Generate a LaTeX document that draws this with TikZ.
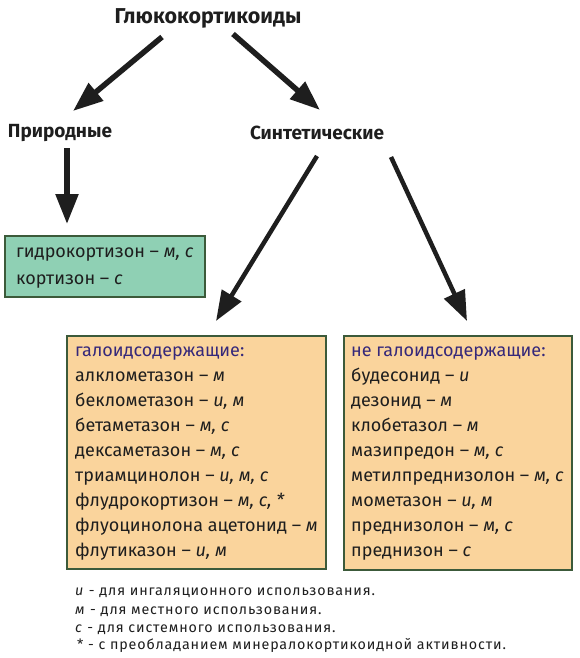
\documentclass[tikz,border=0pt]{standalone}
\usepackage{fontspec}
\setmainfont{Fira Sans}
\usetikzlibrary{arrows.meta}
\definecolor{boxgreen}{HTML}{8FD0B4}
\definecolor{boxorange}{HTML}{FAD49C}
\definecolor{edgecol}{HTML}{3C5A3A}
\definecolor{hdr}{HTML}{35287A}
\definecolor{ink}{HTML}{1E1E1E}
\begin{document}
\begin{tikzpicture}[x=1pt,y=-1pt,
  heading/.style={font=\fontsize{19}{22}\selectfont\bfseries, text=ink, inner sep=0pt},
  bigarrow/.style={line width=5.5pt, draw=ink, -{Triangle[length=30pt,width=22pt]}},
  greenbox/.style={draw=edgecol, line width=1.5pt, fill=boxgreen},
  orangebox/.style={draw=edgecol, line width=1.5pt, fill=boxorange},
  boxtext/.style={font=\fontsize{18}{22}\selectfont, text=ink, anchor=base west, inner sep=0pt},
  hdrtext/.style={boxtext, text=hdr},
  legend/.style={font=\fontsize{14.3}{16}\selectfont\addfontfeature{LetterSpace=6}, text=ink, anchor=base west, inner sep=0pt}]
\useasboundingbox (0,0) rectangle (579,658);

% headings
\node[heading, font=\fontsize{21.5}{24}\selectfont\bfseries] (title) at (208,18) {Глюкокортикоиды};
\node[heading] (prir) at (60,133) {Природные};
\node[heading] (sint) at (317,133) {Синтетические};

% boxes
\node[greenbox, anchor=north west, minimum width=200pt, minimum height=61pt, inner sep=0pt] (gbox) at (4,235) {};
\node[orangebox, anchor=north west, minimum width=259pt, minimum height=233pt, inner sep=0pt] (lbox) at (66,335) {};
\node[orangebox, anchor=north west, minimum width=228pt, minimum height=234pt, inner sep=0pt] (rbox) at (343,335) {};

% arrows
\coordinate (t1s) at (162,37);  \coordinate (t1e) at (73,111);
\coordinate (t2s) at (233,34);  \coordinate (t2e) at (320,110);
\coordinate (p1s) at (67,148);  \coordinate (p1e) at (67,224);
\coordinate (s1s) at (317,156); \coordinate (s1e) at (216,321);
\coordinate (s2s) at (391,157); \coordinate (s2e) at (467,321);
\draw[bigarrow] (t1s) -- (t1e);
\draw[bigarrow] (t2s) -- (t2e);
\draw[bigarrow] (p1s) -- (p1e);
\draw[bigarrow, line width=4.5pt] (s1s) -- (s1e);
\draw[bigarrow, line width=4.5pt] (s2s) -- (s2e);

% green box text
\node[boxtext] (g1) at (16,257) {гидрокортизон – \textit{м, с}};
\node[boxtext] (g2) at (16,284) {кортизон – \textit{с}};

% left box
\node[hdrtext] (lh) at (75,356) {галоидсодержащие:};
\foreach \t [count=\i] in {
  {алклометазон – \textit{м}},
  {беклометазон – \textit{и, м}},
  {бетаметазон – \textit{м, с}},
  {дексаметазон – \textit{м, с}},
  {триамцинолон – \textit{и, м, с}},
  {флудрокортизон – \textit{м, с, *}},
  {флуоцинолона ацетонид – \textit{м}},
  {флутиказон – \textit{и, м}}}
  \node[boxtext] (l\i) at (75,{356+25*\i}) {\t};

% right box
\node[hdrtext] (rh) at (351,356) {не галоидсодержащие:};
\foreach \t [count=\i] in {
  {будесонид – \textit{и}},
  {дезонид – \textit{м}},
  {клобетазол – \textit{м}},
  {мазипредон – \textit{м, с}},
  {метилпреднизолон – \textit{м, с}},
  {мометазон – \textit{и, м}},
  {преднизолон – \textit{м, с}},
  {преднизон – \textit{с}}}
  \node[boxtext] (r\i) at (351,{356+25*\i}) {\t};

% legend
\node[legend] (k1) at (75,595) {\textit{и} - для ингаляционного использования.};
\node[legend] (k2) at (75,614) {\textit{м} - для местного использования.};
\node[legend] (k3) at (75,632) {\textit{с} - для системного использования.};
\node[legend] (k4) at (77,649) {* - с преобладанием минералокортикоидной активности.};
\end{tikzpicture}
\end{document}
